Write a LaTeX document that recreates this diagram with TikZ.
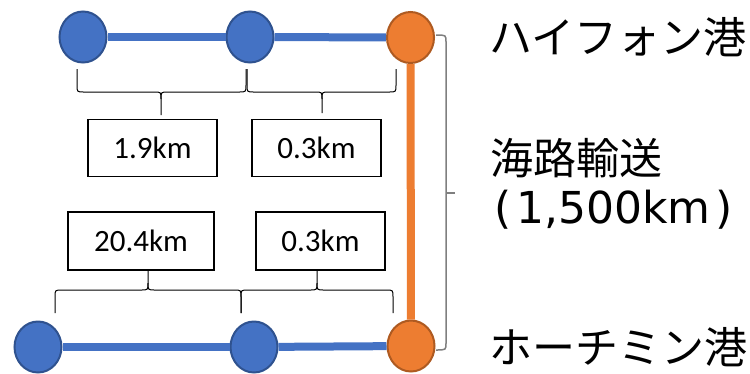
\documentclass[tikz,border=0pt]{standalone}
\usepackage{fontspec}
\setmainfont{DejaVu Sans}
\newfontfamily\cjk{Noto Sans CJK JP}
\newfontfamily\boxfont{Carlito}
\usetikzlibrary{shapes.geometric}
\definecolor{nodeblue}{HTML}{4472C4}
\definecolor{nodeblueb}{HTML}{2F528F}
\definecolor{nodeorange}{HTML}{ED7D31}
\definecolor{nodeorangeb}{HTML}{AE5A21}
\definecolor{bracegray}{HTML}{7F7F7F}
\tikzset{
  bnode/.style={ellipse, fill=nodeblue, draw=nodeblueb, line width=2pt, minimum width=47pt, minimum height=51pt, inner sep=0pt},
  onode/.style={ellipse, fill=nodeorange, draw=nodeorangeb, line width=2pt, minimum width=47pt, minimum height=51pt, inner sep=0pt},
  bline/.style={nodeblue, line width=8pt},
  oline/.style={nodeorange, line width=8pt},
  kmbox/.style={draw=black, line width=1.3pt, rectangle, inner sep=0pt, font=\boxfont\fontsize{31}{36}\selectfont},
  bracestyle/.style={black, line width=1pt},
  lbl/.style={anchor=west, inner sep=0pt},
}
\newcommand\bracedn[6]{%
  \draw[bracestyle] (#1,#4) -- (#1,{#5-7}) .. controls (#1,#5) .. ({#1+7},#5) -- ({#3-7},#5) .. controls (#3,#5) .. (#3,{#5+7}) -- (#3,#6);
  \draw[bracestyle] (#2,#4) -- (#2,{#5-7}) .. controls (#2,#5) .. ({#2-7},#5) -- ({#3+7},#5) .. controls (#3,#5) .. (#3,{#5+7});
}
\newcommand\braceup[6]{%
  \draw[bracestyle] (#1,#4) -- (#1,{#5+7}) .. controls (#1,#5) .. ({#1+7},#5) -- ({#3-7},#5) .. controls (#3,#5) .. (#3,{#5-7}) -- (#3,#6);
  \draw[bracestyle] (#2,#4) -- (#2,{#5+7}) .. controls (#2,#5) .. ({#2-7},#5) -- ({#3+7},#5) .. controls (#3,#5) .. (#3,{#5-7});
}
\begin{document}
\begin{tikzpicture}[x=1pt,y=-1pt]
\useasboundingbox (0,0) rectangle (750,373);
% nodes
\node[bnode] (a1) at (83,37) {};
\node[bnode] (a2) at (250,37) {};
\node[onode] (a3) at (410.5,37.5) {};
\node[bnode] (b1) at (38,347) {};
\node[bnode] (b2) at (254,347) {};
\node[onode] (b3) at (411,346) {};
% connectors
\draw[bline] (a1) -- (a2);
\draw[bline] (a2) -- (a3);
\draw[bline] (b1) -- (b2);
\draw[bline] (b2) -- (b3);
\draw[oline] (a3) -- (b3);
% braces
\bracedn{77}{246}{161}{69}{92}{115}
\bracedn{247}{396}{322}{69}{92}{113}
\braceup{55}{241}{148}{313}{290}{270}
\braceup{241}{393}{317}{313}{290}{270}
% right brace
\draw[bracegray, line width=1.5pt] (436,35) .. controls (446,35) .. (446,42) -- (446,343) .. controls (446,350) .. (436,350);
\draw[bracegray, line width=1.5pt] (446,193) -- (455,193);
% boxes
\node[kmbox, minimum width=129pt, minimum height=57pt] (k1) at (152.5,148) {1.9km};
\node[kmbox, minimum width=129pt, minimum height=57pt] (k2) at (316.5,148) {0.3km};
\node[kmbox, minimum width=146pt, minimum height=58pt] (k3) at (141,241) {20.4km};
\node[kmbox, minimum width=129pt, minimum height=58pt] (k4) at (320.5,241) {0.3km};
% labels
\node[lbl, font=\cjk\fontsize{43}{50}\selectfont] (t1) at (489,37) {ハイフォン港};
\node[lbl, font=\cjk\fontsize{43}{50}\selectfont] (t2) at (490,158) {海路輸送};
\node[lbl, font=\fontsize{44}{50}\selectfont] (t3) at (494,210) {(\hspace{5pt}1,500km\hspace{5pt})};
\node[lbl, font=\cjk\fontsize{43}{50}\selectfont] (t4) at (489,347) {ホーチミン港};
\end{tikzpicture}
\end{document}
